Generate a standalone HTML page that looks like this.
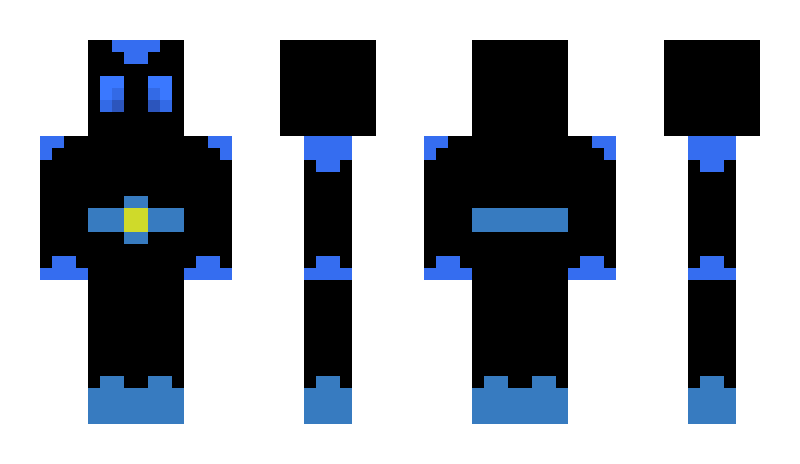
<!DOCTYPE html>
<html><head><meta charset="utf-8"><style>
html,body{margin:0;padding:0;background:#fff;}
body{width:800px;height:464px;position:relative;overflow:hidden;}
div{position:absolute;}
.k{background:#000;}
.b{background:#356df0;}
.t{background:#377bc0;}
</style></head><body>
<!-- FRONT -->
<div class="k" style="left:88px;top:40px;width:96px;height:96px"></div>
<div class="b" style="left:112px;top:40px;width:48px;height:12px"></div>
<div class="b" style="left:124px;top:52px;width:24px;height:12px"></div>
<div style="left:100px;top:76px;width:24px;height:12px;background:#3a78ff"></div>
<div style="left:100px;top:88px;width:12px;height:12px;background:#3a78ff"></div>
<div style="left:112px;top:88px;width:12px;height:12px;background:#336ae6"></div>
<div style="left:100px;top:100px;width:12px;height:12px;background:#336ae6"></div>
<div style="left:112px;top:100px;width:12px;height:12px;background:#2c55bc"></div>
<div style="left:148px;top:76px;width:24px;height:12px;background:#3a78ff"></div>
<div style="left:160px;top:88px;width:12px;height:12px;background:#3a78ff"></div>
<div style="left:148px;top:88px;width:12px;height:12px;background:#336ae6"></div>
<div style="left:160px;top:100px;width:12px;height:12px;background:#336ae6"></div>
<div style="left:148px;top:100px;width:12px;height:12px;background:#2c55bc"></div>
<div class="k" style="left:40px;top:136px;width:192px;height:144px"></div>
<div class="b" style="left:40px;top:136px;width:24px;height:12px"></div>
<div class="b" style="left:40px;top:148px;width:12px;height:12px"></div>
<div class="b" style="left:208px;top:136px;width:24px;height:12px"></div>
<div class="b" style="left:220px;top:148px;width:12px;height:12px"></div>
<div class="t" style="left:88px;top:208px;width:96px;height:24px"></div>
<div class="t" style="left:124px;top:196px;width:24px;height:48px"></div>
<div style="left:124px;top:208px;width:24px;height:24px;background:#cfda2a"></div>
<div class="b" style="left:52px;top:256px;width:24px;height:12px"></div>
<div class="b" style="left:40px;top:268px;width:48px;height:12px"></div>
<div class="b" style="left:196px;top:256px;width:24px;height:12px"></div>
<div class="b" style="left:184px;top:268px;width:48px;height:12px"></div>
<div class="k" style="left:88px;top:280px;width:96px;height:108px"></div>
<div class="t" style="left:88px;top:388px;width:96px;height:36px"></div>
<div class="t" style="left:100px;top:376px;width:24px;height:12px"></div>
<div class="t" style="left:148px;top:376px;width:24px;height:12px"></div>
<!-- SIDE 1 -->
<div class="k" style="left:280px;top:40px;width:96px;height:96px"></div>
<div class="k" style="left:304px;top:136px;width:48px;height:252px"></div>
<div class="b" style="left:304px;top:136px;width:48px;height:24px"></div>
<div class="b" style="left:316px;top:160px;width:24px;height:12px"></div>
<div class="b" style="left:316px;top:256px;width:24px;height:12px"></div>
<div class="b" style="left:304px;top:268px;width:48px;height:12px"></div>
<div class="t" style="left:304px;top:388px;width:48px;height:36px"></div>
<div class="t" style="left:316px;top:376px;width:24px;height:12px"></div>
<!-- BACK -->
<div class="k" style="left:472px;top:40px;width:96px;height:96px"></div>
<div class="k" style="left:424px;top:136px;width:192px;height:144px"></div>
<div class="b" style="left:424px;top:136px;width:24px;height:12px"></div>
<div class="b" style="left:424px;top:148px;width:12px;height:12px"></div>
<div class="b" style="left:592px;top:136px;width:24px;height:12px"></div>
<div class="b" style="left:604px;top:148px;width:12px;height:12px"></div>
<div class="t" style="left:472px;top:208px;width:96px;height:24px"></div>
<div class="b" style="left:436px;top:256px;width:24px;height:12px"></div>
<div class="b" style="left:424px;top:268px;width:48px;height:12px"></div>
<div class="b" style="left:580px;top:256px;width:24px;height:12px"></div>
<div class="b" style="left:568px;top:268px;width:48px;height:12px"></div>
<div class="k" style="left:472px;top:280px;width:96px;height:108px"></div>
<div class="t" style="left:472px;top:388px;width:96px;height:36px"></div>
<div class="t" style="left:484px;top:376px;width:24px;height:12px"></div>
<div class="t" style="left:532px;top:376px;width:24px;height:12px"></div>
<!-- SIDE 2 -->
<div class="k" style="left:664px;top:40px;width:96px;height:96px"></div>
<div class="k" style="left:688px;top:136px;width:48px;height:252px"></div>
<div class="b" style="left:688px;top:136px;width:48px;height:24px"></div>
<div class="b" style="left:700px;top:160px;width:24px;height:12px"></div>
<div class="b" style="left:700px;top:256px;width:24px;height:12px"></div>
<div class="b" style="left:688px;top:268px;width:48px;height:12px"></div>
<div class="t" style="left:688px;top:388px;width:48px;height:36px"></div>
<div class="t" style="left:700px;top:376px;width:24px;height:12px"></div>
</body></html>
